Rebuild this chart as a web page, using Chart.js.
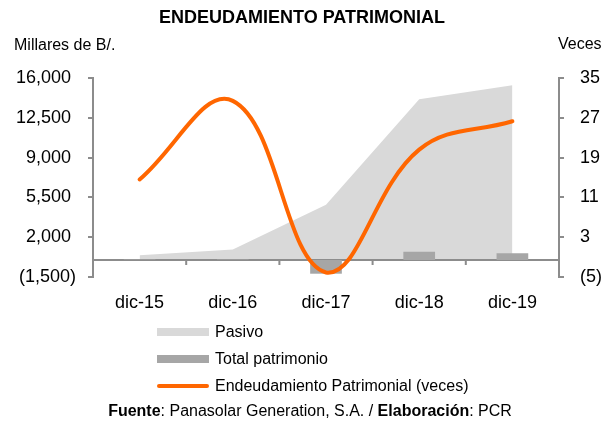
<!DOCTYPE html>
<html>
<head>
<meta charset="utf-8">
<script src="https://cdn.jsdelivr.net/npm/chart.js@4/dist/chart.umd.min.js"></script>
<style>
  html, body { margin: 0; padding: 0; background: #fff; }
  body { width: 602px; height: 423px; position: relative; overflow: hidden; font-family: "Liberation Sans", Arial, sans-serif; color: #000; }
  #wrap { position: absolute; left: 0; top: 0; width: 602px; height: 423px; }
  .txt { position: absolute; white-space: nowrap; line-height: 1; }
  #title { left: 0; width: 604px; text-align: center; top: 8px; font-weight: bold; font-size: 18px; }
  #yl { left: 14px; top: 37px; font-size: 16px; }
  #yr { left: 558px; top: 36px; font-size: 16px; }
  .leg { position: absolute; left: 157px; font-size: 16px; }
  .leg .sw { position: absolute; left: 0; width: 52px; }
  .leg .lt { position: absolute; left: 58px; white-space: nowrap; line-height: 1; }
  #foot { left: 0; width: 620px; text-align: center; top: 403px; font-size: 16px; }
</style>
</head>
<body>
<div id="wrap"><canvas id="c" width="602" height="423"></canvas></div>
<div class="txt" id="title">ENDEUDAMIENTO PATRIMONIAL</div>
<div class="txt" id="yl">Millares de B/.</div>
<div class="txt" id="yr">Veces</div>
<div class="leg" style="top:332px"><div class="sw" style="top:-4px;height:8px;background:#d9d9d9"></div><div class="lt" style="top:-8px">Pasivo</div></div>
<div class="leg" style="top:359px"><div class="sw" style="top:-4px;height:8px;background:#a6a6a6"></div><div class="lt" style="top:-8px">Total patrimonio</div></div>
<div class="leg" style="top:386px"><div class="sw" style="top:-2px;height:4px;background:#ff6600;border-radius:2px"></div><div class="lt" style="top:-8px">Endeudamiento Patrimonial (veces)</div></div>
<div class="txt" id="foot"><b>Fuente</b>: Panasolar Generation, S.A. / <b>Elaboración</b>: PCR</div>
<script>
const categories = ["dic-15", "dic-16", "dic-17", "dic-18", "dic-19"];
const pasivo = [420, 920, 4860, 14130, 15360];
const totalPatrimonio = [29, 30, -1210, 715, 595];
const endeudamiento = [14.6, 30.4, -4.1, 20.6, 26.3];
const leftTicks = [-1500, 2000, 5500, 9000, 12500, 16000];
const rightTicks = [-5, 3, 11, 19, 27, 35];

const fmt = (v) => {
  const s = Math.abs(v).toLocaleString('en-US');
  return v < 0 ? '(' + s + ')' : s + ' ';
};
const axisColor = '#8c8c8c';
const tickFont = { family: '"Liberation Sans", Arial, sans-serif', size: 18 };

const zeroAxis = {
  id: 'zeroAxis',
  afterDatasetDraw(chart, args) {
    if (args.index !== 0) return;
    const ctx = chart.ctx, x = chart.scales.x, y = chart.scales.y;
    const y0 = y.getPixelForValue(0);
    ctx.save();
    ctx.strokeStyle = axisColor;
    ctx.lineWidth = 2;
    ctx.beginPath();
    ctx.moveTo(chart.chartArea.left, y0);
    ctx.lineTo(chart.chartArea.right, y0);
    for (let i = 1; i < categories.length; i++) {
      const bx = (x.getPixelForValue(i - 1) + x.getPixelForValue(i)) / 2;
      ctx.moveTo(bx, y0);
      ctx.lineTo(bx, y0 + 5);
    }
    ctx.stroke();
    ctx.restore();
  }
};

new Chart(document.getElementById('c'), {
  type: 'bar',
  data: {
    labels: categories,
    datasets: [
      {
        type: 'line', label: 'Pasivo', data: pasivo, yAxisID: 'y',
        fill: 'origin', backgroundColor: '#d9d9d9', borderWidth: 0, borderColor: '#d9d9d9',
        pointRadius: 0, tension: 0, order: 3
      },
      {
        type: 'bar', label: 'Total patrimonio', data: totalPatrimonio, yAxisID: 'y',
        backgroundColor: '#a6a6a6', categoryPercentage: 1, barPercentage: 0.34, order: 2
      },
      {
        type: 'line', label: 'Endeudamiento Patrimonial (veces)', data: endeudamiento, yAxisID: 'y1',
        borderColor: '#ff6600', borderWidth: 4, pointRadius: 0, tension: 0.4, fill: false,
        borderCapStyle: 'round', order: 1
      }
    ]
  },
  options: {
    responsive: false, animation: false,
    layout: { padding: { top: 78, left: 0, right: 0, bottom: 0 } },
    plugins: { legend: { display: false }, title: { display: false }, tooltip: { enabled: false } },
    scales: {
      x: {
        offset: true,
        grid: { display: false, drawTicks: false },
        border: { display: false },
        ticks: { color: '#000', font: tickFont, padding: 15, maxRotation: 0 },
        afterFit: (s) => { s.height = 423 - 277; }
      },
      y: {
        position: 'left', min: -1500, max: 16000,
        afterBuildTicks: (s) => { s.ticks = leftTicks.map(v => ({ value: v })); },
        ticks: { color: '#000', font: tickFont, padding: 12, callback: (v) => fmt(v) },
        grid: { drawOnChartArea: false, drawTicks: true, tickLength: 5, color: axisColor, lineWidth: 2 },
        border: { display: true, color: axisColor, width: 2 },
        afterFit: (s) => { s.width = 93; }
      },
      y1: {
        position: 'right', min: -5, max: 35,
        afterBuildTicks: (s) => { s.ticks = rightTicks.map(v => ({ value: v })); },
        ticks: { color: '#000', font: tickFont, padding: 16, callback: (v) => fmt(v).trim() },
        grid: { drawOnChartArea: false, drawTicks: true, tickLength: 5, color: axisColor, lineWidth: 2 },
        border: { display: true, color: axisColor, width: 2 },
        afterFit: (s) => { s.width = 602 - 559; }
      }
    }
  },
  plugins: [zeroAxis]
});
</script>
</body>
</html>
